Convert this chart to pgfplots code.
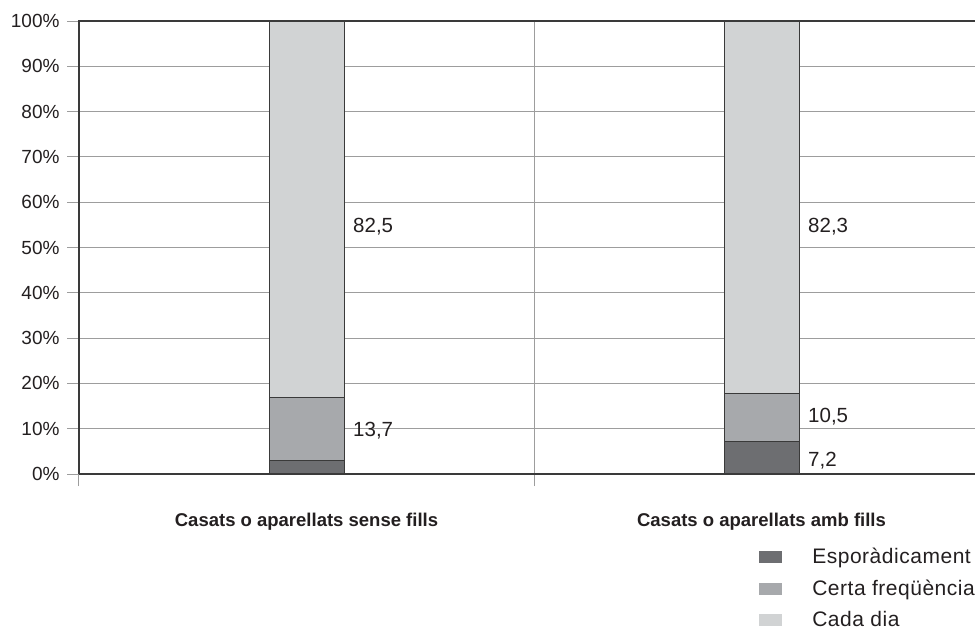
\documentclass[border=0pt]{standalone}
\usepackage{pgfplots}
\pgfplotsset{compat=1.18}
\usepackage{fontspec}
\setmainfont{Liberation Sans}
\newfontfamily\legfont[LetterSpace=2.5]{Liberation Sans}
\definecolor{c1}{HTML}{6D6E71}
\definecolor{c2}{HTML}{A7A9AC}
\definecolor{c3}{HTML}{D1D3D4}
\definecolor{txt}{HTML}{231F20}
\definecolor{gridc}{HTML}{9D9D9D}
\definecolor{axc}{HTML}{3A3A3A}
\tikzset{vlab/.style={anchor=west, inner sep=0pt, font=\fontsize{20.5}{20.5}\selectfont, text=txt, xshift=46.5pt}}
\begin{document}
\begin{tikzpicture}
\begin{axis}[
  name=ax,
  scale only axis, width=896pt, height=453pt,
  xmin=-0.5, xmax=1.4692, ymin=0, ymax=100,
  ybar stacked, bar width=75pt,
  axis line style={draw=none},
  ytick={0,10,...,100},
  /pgf/number format/assume math mode=true,
  yticklabel={\pgfmathprintnumber{\tick}\%},
  yticklabel style={font=\fontsize{19}{19}\selectfont, text=txt, xshift=-4pt},
  ymajorgrids, grid style={gridc, line width=1pt},
  ytick pos=left, tick align=outside, major tick length=12pt,
  ytick style={gridc, line width=1pt},
  xtick={0,1},
  xticklabels={Casats o aparellats sense fills, Casats o aparellats amb fills},
  xticklabel style={font=\bfseries\fontsize{18.5}{18.5}\selectfont, text=txt, yshift=-24pt},
  xtick style={draw=none},
  legend style={at={(rel axis cs:0.759,-0.165)}, anchor=north west, draw=none, fill=none,
    inner sep=0pt, font=\legfont\fontsize{21}{21}\selectfont, text=txt,
    nodes={inner sep=0pt, text height=15pt, text depth=2pt},
    row sep=14.5pt,
    /tikz/every odd column/.append style={column sep=30pt}},
  legend cell align=left,
  legend image code/.code={\fill[#1,draw=none] (0pt,-6pt) rectangle (23pt,6pt);},
]
\addplot[fill=c1, draw=axc, line width=1pt] coordinates {(0,2.9) (1,7.2)};
\addplot[fill=c2, draw=axc, line width=1pt] coordinates {(0,14.0) (1,10.5)};
\addplot[fill=c3, draw=axc, line width=1pt] coordinates {(0,83.1) (1,82.3)};
\legend{Esporàdicament, Certa freqüència, Cada dia}
\coordinate (sepb) at (rel axis cs:0.50782,0);
\coordinate (sept) at (rel axis cs:0.50782,1);
\node[vlab] at (axis cs:0,54.7) {82,5};
\node[vlab] at (axis cs:0,9.5) {13,7};
\node[vlab] at (axis cs:1,54.7) {82,3};
\node[vlab] at (axis cs:1,12.65) {10,5};
\node[vlab] at (axis cs:1,3.0) {7,2};
\end{axis}
\draw[gridc, line width=1pt] ([yshift=-12pt]sepb) -- (sept);
\draw[gridc, line width=1pt] ([yshift=-12pt]ax.south west) -- (ax.south west);
\draw[axc, line width=1.3pt] (ax.south west) -- (ax.north west) -- (ax.north east);
\draw[axc, line width=1.3pt] (ax.south west) -- (ax.south east);
\pgfresetboundingbox
\path[use as bounding box] (-79pt,-156pt) rectangle (896pt,474pt);
\end{tikzpicture}
\end{document}
